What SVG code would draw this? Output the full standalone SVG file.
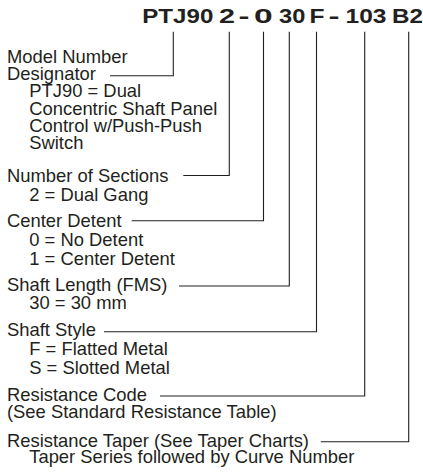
<svg xmlns="http://www.w3.org/2000/svg" width="423" height="472" viewBox="0 0 423 472">
<style>
  .t { font-family: "Liberation Sans", Arial, Helvetica, sans-serif; font-size: 17.7px; fill: #231f20; }
  .h { font-family: "Liberation Sans", Arial, Helvetica, sans-serif; font-size: 19.5px; font-weight: bold; fill: #231f20; }
  .c { fill: none; stroke: #231f20; stroke-width: 1.1; }
</style>
<rect width="423" height="472" fill="#ffffff"/>
<g id="title">
  <text class="h" x="142.3" y="23" textLength="71" lengthAdjust="spacingAndGlyphs">PTJ90</text>
  <text class="h" x="219" y="23" textLength="16" lengthAdjust="spacingAndGlyphs">2</text>
  <text class="h" x="238.5" y="23" textLength="11" lengthAdjust="spacingAndGlyphs">-</text>
  <text class="h" x="254" y="23" textLength="18.7" lengthAdjust="spacingAndGlyphs">0</text>
  <text class="h" x="279" y="23" textLength="26.3" lengthAdjust="spacingAndGlyphs">30</text>
  <text class="h" x="309.5" y="23" textLength="15" lengthAdjust="spacingAndGlyphs">F</text>
  <text class="h" x="328.5" y="23" textLength="11" lengthAdjust="spacingAndGlyphs">-</text>
  <text class="h" x="345.5" y="23" textLength="41" lengthAdjust="spacingAndGlyphs">103</text>
  <text class="h" x="392" y="23" textLength="31" lengthAdjust="spacingAndGlyphs">B2</text>
</g>
<g id="connectors">
  <path class="c" d="M173.3,31.7 V75.7 H110"/>
  <path class="c" d="M229.3,31.7 V175.5 H183.3"/>
  <path class="c" d="M263.5,31.7 V220.7 H131.7"/>
  <path class="c" d="M289.3,31.7 V286 H179"/>
  <path class="c" d="M316.5,31.7 V331.7 H104"/>
  <path class="c" d="M364.7,31.7 V396 H160"/>
  <path class="c" d="M408.7,31.7 V441.7 H320.7"/>
</g>
<g id="model" transform="scale(1.04 1)">
  <text class="t" x="6.7" y="63">Model Number</text>
  <text class="t" x="6.7" y="80">Designator</text>
  <text class="t" x="28.1" y="97.5">PTJ90 = Dual</text>
  <text class="t" x="28.1" y="114.7">Concentric Shaft Panel</text>
  <text class="t" x="28.1" y="132">Control w/Push-Push</text>
  <text class="t" x="28.1" y="149.3">Switch</text>
</g>
<g id="sections" transform="scale(1.04 1)">
  <text class="t" x="6.7" y="181.7">Number of Sections</text>
  <text class="t" x="28.1" y="201">2 = Dual Gang</text>
</g>
<g id="detent" transform="scale(1.04 1)">
  <text class="t" x="6.7" y="227">Center Detent</text>
  <text class="t" x="28.1" y="246.5">0 = No Detent</text>
  <text class="t" x="28.1" y="265">1 = Center Detent</text>
</g>
<g id="length" transform="scale(1.04 1)">
  <text class="t" x="6.7" y="291">Shaft Length (FMS)</text>
  <text class="t" x="28.1" y="309">30 = 30 mm</text>
</g>
<g id="style" transform="scale(1.04 1)">
  <text class="t" x="6.7" y="336">Shaft Style</text>
  <text class="t" x="28.1" y="355">F = Flatted Metal</text>
  <text class="t" x="28.1" y="374">S = Slotted Metal</text>
</g>
<g id="rescode" transform="scale(1.04 1)">
  <text class="t" x="6.7" y="400.7">Resistance Code</text>
  <text class="t" x="6.7" y="418">(See Standard Resistance Table)</text>
</g>
<g id="taper" transform="scale(1.04 1)">
  <text class="t" x="6.7" y="446.7">Resistance Taper (See Taper Charts)</text>
  <text class="t" x="28.1" y="463.5">Taper Series followed by Curve Number</text>
</g>
</svg>
